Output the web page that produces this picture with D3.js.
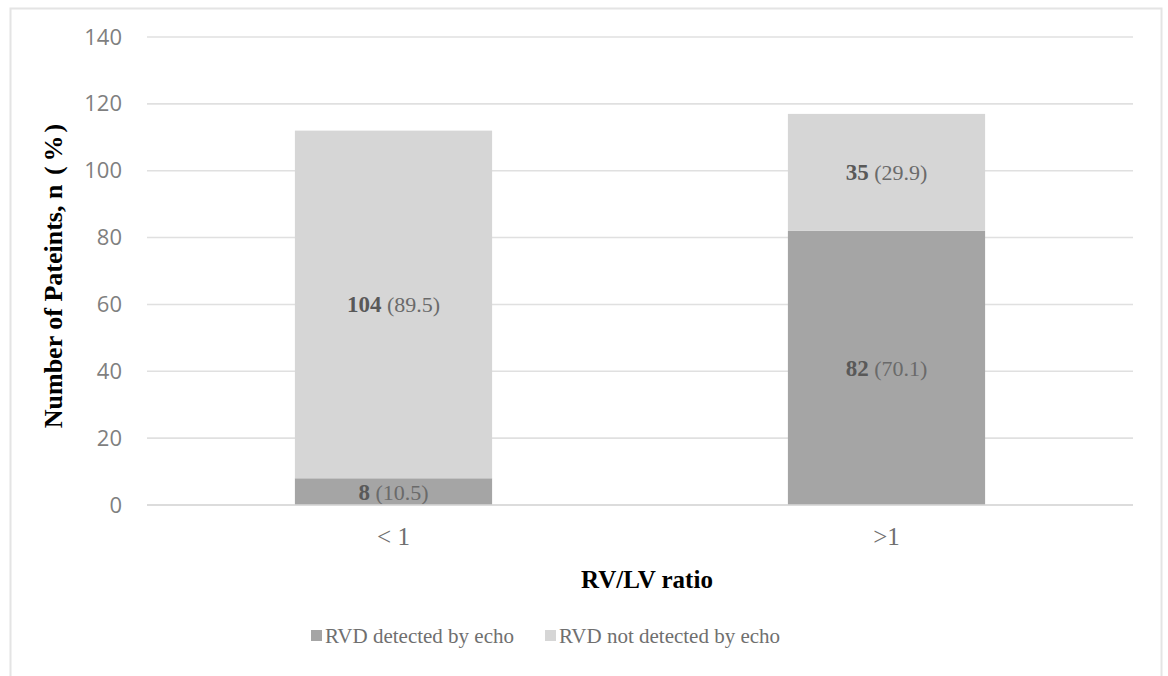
<!DOCTYPE html>
<html>
<head>
<meta charset="utf-8">
<script src="https://cdn.jsdelivr.net/npm/d3@7"></script>
<style>
  html, body { margin: 0; padding: 0; background: #fff; }
  svg { display: block; }
</style>
</head>
<body>
<svg id="chart" width="1168" height="676"></svg>
<script>
// Stacked bars: patients by RV/LV ratio, split by echo RVD detection
const categories = ["< 1", ">1"];
const seriesNames = ["RVD detected by echo", "RVD not detected by echo"];
const detectedCounts = [8, 82];
const detectedPct = [10.5, 70.1];
const notDetectedCounts = [104, 35];
const notDetectedPct = [89.5, 29.9];
const yTicks = [0, 20, 40, 60, 80, 100, 120, 140];

const colors = ["#a5a5a5", "#d6d6d6"];

const svg = d3.select("#chart");
const W = 1168, H = 676;
const m = { left: 147, right: 35, top: 37, bottom: 171 };
const serif = "'Liberation Serif', 'Times New Roman', serif";

// outer frame
svg.append("rect")
  .attr("x", 10.5).attr("y", 8.5)
  .attr("width", 1151).attr("height", 700)
  .attr("fill", "#fff").attr("stroke", "#e4e4e4").attr("stroke-width", 2);

const x = d3.scaleBand().domain(categories)
  .range([m.left, W - m.right]).padding(0);
const y = d3.scaleLinear().domain([0, 140]).range([H - m.bottom, m.top]);

// gridlines
svg.append("g").selectAll("line").data(yTicks).join("line")
  .attr("x1", m.left).attr("x2", W - m.right)
  .attr("y1", d => y(d)).attr("y2", d => y(d))
  .attr("stroke", "#e0e0e0").attr("stroke-width", 1.6);

// y axis labels
const yAxis = d3.axisLeft(y).tickValues(yTicks).tickSize(0).tickPadding(25);
const gy = svg.append("g").attr("transform", `translate(${m.left},0)`).call(yAxis);
gy.select(".domain").remove();
gy.selectAll("text")
  .attr("fill", "#7f7f7f")
  .style("font-family", "'Open Sans', 'Noto Sans', sans-serif")
  .style("font-size", "22px");

// stack data
const rows = categories.map((c, i) => ({
  cat: c,
  detected: detectedCounts[i],
  notDetected: notDetectedCounts[i],
  pct: [detectedPct[i], notDetectedPct[i]]
}));
const stack = d3.stack().keys(["detected", "notDetected"])(rows);

const barW = x.bandwidth() * 0.4;

stack.forEach((layer, li) => {
  const g = svg.append("g");
  g.selectAll("rect").data(layer).join("rect")
    .attr("x", d => x(d.data.cat) + (x.bandwidth() - barW) / 2)
    .attr("width", barW)
    .attr("y", d => y(d[1]))
    .attr("height", d => y(d[0]) - y(d[1]))
    .attr("fill", colors[li]);

  const t = g.selectAll("text").data(layer).join("text")
    .attr("x", d => x(d.data.cat) + x.bandwidth() / 2)
    .attr("y", d => (y(d[0]) + y(d[1])) / 2 + 8)
    .attr("text-anchor", "middle")
    .attr("fill", "#595959")
    .style("font-family", serif)
    .style("font-size", "22px");
  t.append("tspan").attr("font-weight", "bold").style("font-size", "23px")
    .text(d => d[1] - d[0]);
  t.append("tspan").attr("fill", "#6a6a6a")
    .text(d => " (" + d.data.pct[li].toFixed(1) + ")");
});

// baseline
svg.append("line")
  .attr("x1", m.left).attr("x2", W - m.right)
  .attr("y1", y(0)).attr("y2", y(0))
  .attr("stroke", "#d9d9d9").attr("stroke-width", 1.6);

// x axis labels
const gx = svg.append("g").attr("transform", `translate(0,${y(0)})`)
  .call(d3.axisBottom(x).tickSize(0).tickPadding(22));
gx.select(".domain").remove();
gx.selectAll("text")
  .attr("fill", "#6f6f6f")
  .style("font-family", serif)
  .style("font-size", "25px");

// axis titles
svg.append("text")
  .attr("x", (m.left + W - m.right) / 2 + 7).attr("y", 588)
  .attr("text-anchor", "middle")
  .style("font-family", serif)
  .style("font-weight", "bold").style("font-size", "25px")
  .attr("fill", "#000").text("RV/LV ratio");

const yTitle = svg.append("text")
  .attr("transform", `translate(62,276) rotate(-90)`)
  .attr("text-anchor", "middle")
  .style("font-family", serif)
  .style("font-weight", "bold").style("font-size", "26px")
  .attr("fill", "#000");
yTitle.append("tspan").text("Number of Pateints, n ");
yTitle.append("tspan").attr("dx", 3).text("(");
yTitle.append("tspan").attr("dx", 5).text("%");
yTitle.append("tspan").attr("dx", 3).text(")");

// legend
const legend = svg.append("g");
const legendX = [311, 545];
seriesNames.forEach((name, i) => {
  const lg = legend.append("g").attr("transform", `translate(${legendX[i]},643)`);
  lg.append("rect").attr("x", 0).attr("y", -13).attr("width", 11).attr("height", 11)
    .attr("fill", colors[i]);
  lg.append("text").attr("x", 14).attr("y", 0)
    .attr("fill", "#6f6f6f")
    .style("font-family", serif)
    .style("font-size", "21px")
    .text(name);
});
</script>
</body>
</html>
